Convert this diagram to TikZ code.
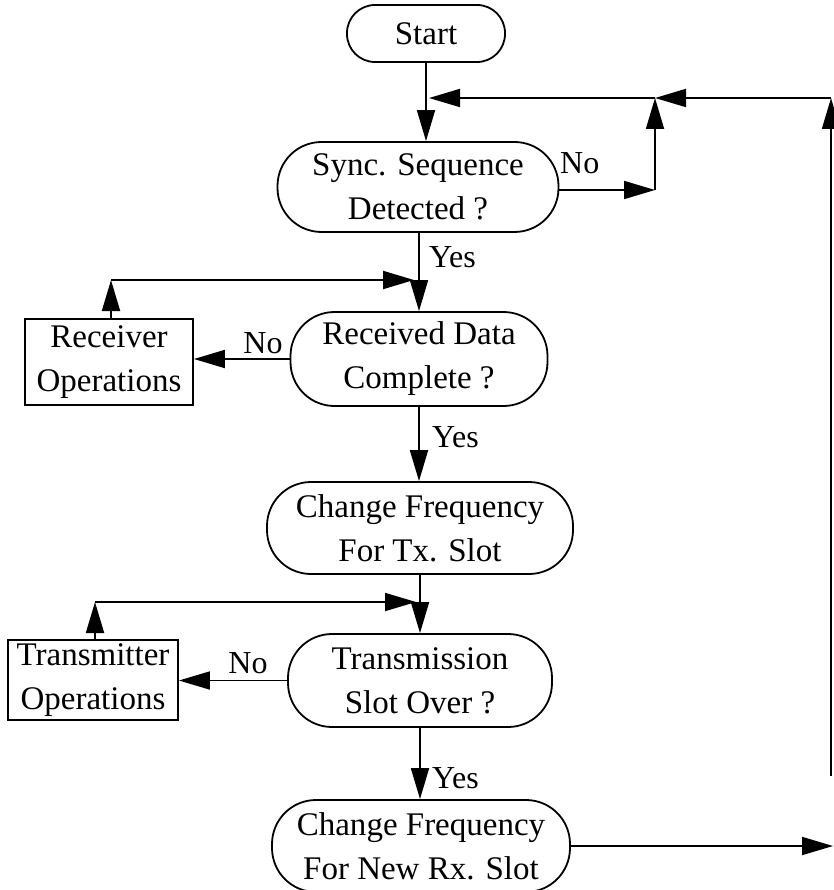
\documentclass[tikz,border=0pt]{standalone}
\usepackage{fontspec}
\setmainfont{Liberation Serif}
\usetikzlibrary{arrows.meta}
\begin{document}
\begin{tikzpicture}[x=1pt,y=-1pt,
  every node/.style={font=\fontsize{33}{44}\selectfont, inner sep=0pt, align=center},
  term/.style={draw, line width=1.8pt, rounded corners=44pt},
  opbox/.style={draw, line width=1.8pt},
  lbl/.style={font=\fontsize{32}{40}\selectfont},
  flow/.style={line width=1.8pt, -{Triangle[length=31pt,width=18pt]}}]
\useasboundingbox (0,0) rectangle (833,890);

% main column
\node[term, rounded corners=28pt, minimum width=158pt, minimum height=57pt] (start) at (426,33.5) {Start};
\node[term, minimum width=281pt, minimum height=90pt] (sync) at (418,187) {Sync. Sequence\\Detected ?};
\node[term, minimum width=257pt, minimum height=94pt] (recv) at (419,359) {Received Data\\Complete ?};
\node[term, minimum width=306pt, minimum height=92pt] (chtx) at (420,528) {Change Frequency\\For Tx. Slot};
\node[term, minimum width=264pt, minimum height=93pt] (trans) at (420,680.5) {Transmission\\Slot Over ?};
\node[term, minimum width=298pt, minimum height=92pt] (chrx) at (421,846) {Change Frequency\\For New Rx. Slot};

% side operation boxes
\node[opbox, minimum width=168pt, minimum height=86pt] (rxops) at (109,362) {Receiver\\Operations};
\node[opbox, minimum width=170pt, minimum height=80pt] (txops) at (93,680) {Transmitter\\Operations};

% loop-back junctions
\coordinate (j1) at (426,98);
\coordinate (j2) at (655,98);
\coordinate (r1) at (831,98);
\coordinate (r2) at (831,776);
\coordinate (out) at (833,848);
\coordinate (rxtop) at (111,280);
\coordinate (txtop) at (95,602);

% start -> sync, with the return loop joining
\draw[flow] (start.south) -- (start.south |- sync.north);
\draw[flow] (j2) -- ([xshift=3pt]j1);
\draw[flow] (r1) -- (j2);
\draw[flow] (r2) -- (r1);
\draw[flow] ([yshift=-3pt]sync.east) -- ([yshift=-3pt]sync.east -| j2);
\draw[flow] ([yshift=-3pt]sync.east -| j2) -- (j2);
\node[lbl, anchor=west] (no1) at (560,163) {No};

% sync -> received
\draw[flow] (sync.south) -- (sync.south -| recv.north) -- (recv.north);
\node[lbl, anchor=west] (yes1) at (429,257) {Yes};
\draw[flow] (recv.west) -- (recv.west -| rxops.east);
\node[lbl] (no2) at (263,343) {No};
\draw[flow] (rxops.north -| rxtop) -- (rxtop);
\draw[flow, shorten >=5pt] (rxtop) -- (rxtop -| recv.north);

% received -> change tx
\draw[flow] (recv.south) -- (recv.south |- chtx.north);
\node[lbl, anchor=west] (yes2) at (432,437) {Yes};

% change tx -> transmission
\draw[flow] (chtx.south) -- (chtx.south |- trans.north);
\draw[flow] (trans.west) -- (trans.west -| txops.east);
\node[lbl] (no3) at (248,663) {No};
\draw[flow] (txops.north -| txtop) -- (txtop);
\draw[flow, shorten >=4pt] (txtop) -- (txtop -| trans.north);

% transmission -> change rx
\draw[flow] (trans.south) -- (trans.south |- chrx.north);
\node[lbl, anchor=west] (yes3) at (432,778) {Yes};

% exit to the right
\draw[flow] (chrx.east) -- (chrx.east -| out);
\end{tikzpicture}
\end{document}
